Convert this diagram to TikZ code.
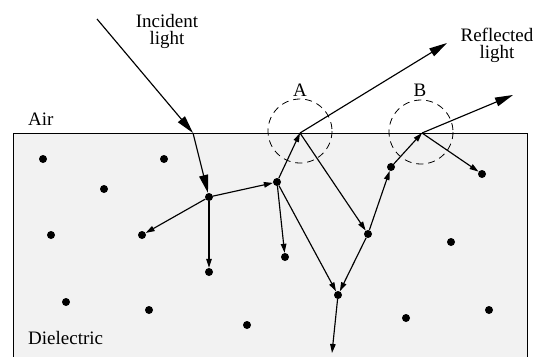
\documentclass[tikz,border=0pt]{standalone}
\usepackage{fontspec}
\setmainfont{Liberation Serif}
\usetikzlibrary{arrows.meta}
\definecolor{diel}{RGB}{242,242,242}
\begin{document}
\begin{tikzpicture}[x=1pt,y=-1pt,
 dot/.style={circle,fill=black,inner sep=0pt,minimum size=8pt},
 ray/.style={line width=1.15pt},
 big/.style={ray,-{Triangle[length=18pt,width=9pt]}},
 small/.style={ray,-{Triangle[length=9pt,width=5.5pt]}},
 lbl/.style={font=\fontsize{19}{17.5}\selectfont,inner sep=0pt},
 zone/.style={draw,dash pattern=on 7pt off 5pt,line width=0.8pt}]
\useasboundingbox (0,0) rectangle (537,356);
\fill[diel] (13,133) rectangle (527,362);
\draw[line width=1pt] (13,362) -- (13,133) -- (527,133) -- (527,362);

% labels
\node[lbl,align=center,anchor=north] (inc) at (167,14) {Incident\\light};
\node[lbl,align=center,anchor=north] (refl) at (497,27.5) {Reflected\\light};
\node[lbl,anchor=base] (la) at (300,96) {A};
\node[lbl,anchor=base] (lb) at (420,96) {B};
\node[lbl,anchor=base west] (air) at (28,125) {Air};
\node[lbl,anchor=base west] (die) at (28,344) {Dielectric};

% zones
\draw[zone] (300,131) circle[radius=32];
\draw[zone] (421,132) circle[radius=32];

% surface points and free ends
\coordinate (in0) at (97,19);
\coordinate (s1) at (193,133);
\coordinate (sA) at (300,133);
\coordinate (sB) at (422,133);
\coordinate (r1) at (447,43);
\coordinate (r2) at (513,95);
\coordinate (out) at (332,353);

% scattering particles on paths
\node[dot] (d1) at (209,197) {};
\node[dot] (d2) at (142,235) {};
\node[dot] (d3) at (209,272) {};
\node[dot] (d4) at (277,182) {};
\node[dot] (d5) at (285,257) {};
\node[dot] (d6) at (338,295) {};
\node[dot] (d7) at (368,234) {};
\node[dot] (d8) at (391,167) {};
\node[dot] (d9) at (482,174) {};

% other particles
\node[dot] (p1) at (43,159) {};
\node[dot] (p2) at (164,159) {};
\node[dot] (p3) at (104,189) {};
\node[dot] (p4) at (51,235) {};
\node[dot] (p5) at (66,302) {};
\node[dot] (p6) at (149,310) {};
\node[dot] (p7) at (247,325) {};
\node[dot] (p8) at (406,318) {};
\node[dot] (p9) at (451,242) {};
\node[dot] (p10) at (489,310) {};

% rays
\draw[big] (in0) -- (s1);
\draw[big] (s1) -- (d1);
\draw[small] (d1) -- (d2);
\draw[small] (d1) -- (d3);
\draw[small] (d1) -- (d4);
\draw[small] (d4) -- (sA);
\draw[small] (d4) -- (d5);
\draw[small] (d4) -- (d6);
\draw[big] (sA) -- (r1);
\draw[small] (sA) -- (d7);
\draw[small] (d7) -- (d6);
\draw[small] (d7) -- (d8);
\draw[small] (d8) -- (sB);
\draw[big] (sB) -- (r2);
\draw[small] (sB) -- (d9);
\draw[small] (d6) -- (out);
\end{tikzpicture}
\end{document}
